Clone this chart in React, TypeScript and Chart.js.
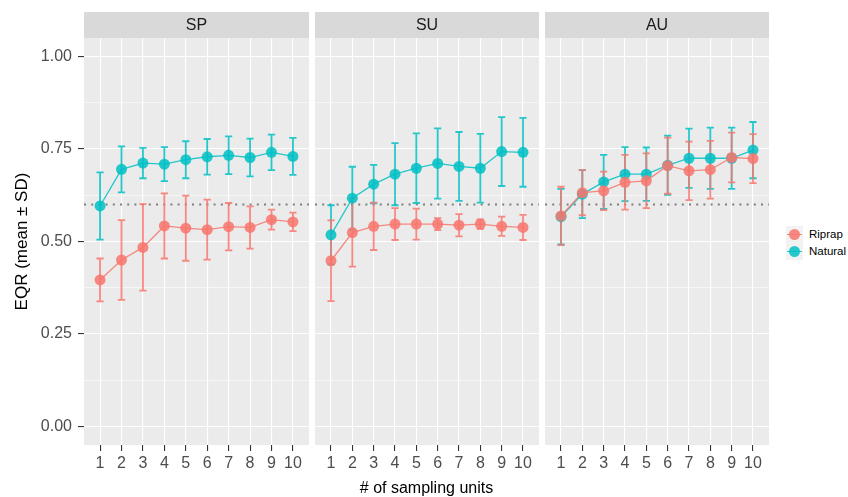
import React, { useEffect, useRef } from "react";
import { Chart, registerables } from "chart.js";

Chart.register(...registerables);

// Facets, x positions and axis ticks
const seasons = ["SP", "SU", "AU"];
const samplingUnits = [1, 2, 3, 4, 5, 6, 7, 8, 9, 10];
const yTicks = [0, 0.25, 0.5, 0.75, 1.0];
const referenceEQR = 0.6;
const groups = ["Riprap", "Natural"];

// EQR mean and SD by number of sampling units — spring
const riprapMeanSP = [0.396, 0.45, 0.484, 0.542, 0.536, 0.532, 0.54, 0.538, 0.559, 0.553];
const riprapSdSP = [0.058, 0.108, 0.117, 0.088, 0.088, 0.081, 0.064, 0.057, 0.027, 0.025];
const naturalMeanSP = [0.596, 0.695, 0.712, 0.709, 0.721, 0.729, 0.733, 0.727, 0.741, 0.73];
const naturalSdSP = [0.091, 0.062, 0.041, 0.046, 0.05, 0.048, 0.051, 0.051, 0.048, 0.05];

// summer
const riprapMeanSU = [0.448, 0.524, 0.541, 0.547, 0.547, 0.547, 0.544, 0.547, 0.541, 0.538];
const riprapSdSU = [0.109, 0.092, 0.064, 0.043, 0.042, 0.016, 0.03, 0.013, 0.026, 0.034];
const naturalMeanSU = [0.518, 0.617, 0.655, 0.682, 0.698, 0.711, 0.703, 0.698, 0.743, 0.741];
const naturalSdSU = [0.08, 0.085, 0.052, 0.084, 0.094, 0.095, 0.093, 0.093, 0.093, 0.093];

// autumn
const riprapMeanAU = [0.569, 0.632, 0.637, 0.66, 0.664, 0.705, 0.691, 0.694, 0.727, 0.724];
const riprapSdAU = [0.079, 0.061, 0.052, 0.074, 0.074, 0.076, 0.079, 0.078, 0.067, 0.066];
const naturalMeanAU = [0.567, 0.628, 0.661, 0.682, 0.682, 0.706, 0.725, 0.725, 0.725, 0.747];
const naturalSdAU = [0.075, 0.065, 0.073, 0.073, 0.072, 0.08, 0.08, 0.083, 0.083, 0.076];

const riprapMeans = [riprapMeanSP, riprapMeanSU, riprapMeanAU];
const riprapSds = [riprapSdSP, riprapSdSU, riprapSdAU];
const naturalMeans = [naturalMeanSP, naturalMeanSU, naturalMeanAU];
const naturalSds = [naturalSdSP, naturalSdSU, naturalSdAU];

const GROUP_COLORS = ["rgba(248,118,109,0.85)", "rgba(0,191,196,0.85)"];

// Layout
const W = 848;
const H = 497;
const STRIP_TOP = 12;
const PANEL_TOP = 38;
const PANEL_BOTTOM = 445;
const PANELS = [
  { left: 84, right: 309 },
  { left: 315, right: 539 },
  { left: 545, right: 769 },
];
const X_MIN = 0.25;
const X_MAX = 10.75;
const Y_MIN = -0.05;
const Y_MAX = 1.05;
const FONT = "'Liberation Sans', Arial, Helvetica, sans-serif";

// major + minor horizontal grid values
const yMinor = yTicks.slice(1).map((v, i) => (v + yTicks[i]) / 2);
const yGrid = [...yTicks, ...yMinor].sort((a, b) => a - b);
const isMajor = (v: number) => yTicks.some((t) => Math.abs(t - v) < 1e-9);

function facetPlugin(season: string, first: boolean, sds: number[][]) {
  return {
    id: "facet",
    beforeDraw(chart: any) {
      const { ctx, chartArea: a } = chart;
      ctx.save();
      ctx.fillStyle = "#EBEBEB";
      ctx.fillRect(a.left, a.top, a.right - a.left, a.bottom - a.top);
      ctx.fillStyle = "#D9D9D9";
      ctx.fillRect(a.left, STRIP_TOP, a.right - a.left, a.top - STRIP_TOP);
      ctx.fillStyle = "#1A1A1A";
      ctx.font = `16px ${FONT}`;
      ctx.textAlign = "center";
      ctx.textBaseline = "middle";
      ctx.fillText(season, (a.left + a.right) / 2, (STRIP_TOP + a.top) / 2 + 1);
      ctx.restore();
    },
    beforeDatasetsDraw(chart: any) {
      const { ctx, chartArea: a, scales } = chart;
      const xs = scales.x;
      const ys = scales.y;
      ctx.save();
      // reference EQR
      ctx.strokeStyle = "#7F7F7F";
      ctx.lineWidth = 2;
      ctx.setLineDash([2, 5.2]);
      const yr = ys.getPixelForValue(referenceEQR);
      ctx.beginPath();
      ctx.moveTo(a.left, yr);
      ctx.lineTo(a.right, yr);
      ctx.stroke();
      ctx.setLineDash([]);
      // mean ± SD error bars
      for (let d = chart.data.datasets.length - 1; d >= 0; d--) {
        const ds = chart.data.datasets[d];
        const sd = sds[d];
        ctx.strokeStyle = ds.borderColor;
        ctx.lineWidth = 1.8;
        ds.data.forEach((p: any, i: number) => {
          const px = xs.getPixelForValue(p.x);
          const top = ys.getPixelForValue(p.y + sd[i]);
          const bot = ys.getPixelForValue(p.y - sd[i]);
          ctx.beginPath();
          ctx.moveTo(px, top);
          ctx.lineTo(px, bot);
          ctx.moveTo(px - 3.6, top);
          ctx.lineTo(px + 3.6, top);
          ctx.moveTo(px - 3.6, bot);
          ctx.lineTo(px + 3.6, bot);
          ctx.stroke();
        });
      }
      ctx.restore();
    },
    afterDraw(chart: any) {
      if (!first) return;
      const { ctx, chartArea: a } = chart;
      ctx.save();
      ctx.fillStyle = "#000000";
      ctx.font = `17px ${FONT}`;
      ctx.textAlign = "center";
      ctx.textBaseline = "middle";
      ctx.translate(22, (a.top + a.bottom) / 2);
      ctx.rotate(-Math.PI / 2);
      ctx.fillText("EQR (mean \u00B1 SD)", 0, 0);
      ctx.restore();
    },
  };
}

function makeChart(canvas: HTMLCanvasElement, f: number) {
  const first = f === 0;
  const means = [riprapMeans[f], naturalMeans[f]];
  const sds = [riprapSds[f], naturalSds[f]];
  return new Chart(canvas, {
    type: "line",
    data: {
      datasets: groups.map((g, d) => ({
        label: g,
        data: samplingUnits.map((u, i) => ({ x: u, y: means[d][i] })),
        borderColor: GROUP_COLORS[d],
        backgroundColor: GROUP_COLORS[d],
        pointBackgroundColor: GROUP_COLORS[d],
        pointBorderWidth: 0,
        pointRadius: 5.5,
        pointHoverRadius: 5.5,
        borderWidth: 1.3,
        tension: 0,
        fill: false,
      })),
    },
    options: {
      animation: false,
      responsive: false,
      devicePixelRatio: 1,
      events: [],
      layout: { autoPadding: false, padding: { top: PANEL_TOP, left: 0, right: 0, bottom: 0 } },
      plugins: { legend: { display: false }, tooltip: { enabled: false } },
      scales: {
        x: {
          type: "linear",
          min: X_MIN,
          max: X_MAX,
          afterBuildTicks: (s: any) => {
            s.ticks = samplingUnits.map((v) => ({ value: v }));
          },
          afterFit: (s: any) => {
            s.height = H - PANEL_BOTTOM;
            s.paddingLeft = 0;
            s.paddingRight = 0;
          },
          grid: {
            color: "#FFFFFF",
            lineWidth: 1.1,
            tickColor: "#333333",
            tickLength: 6,
            drawTicks: true,
          },
          border: { display: false },
          ticks: {
            color: "#4D4D4D",
            font: { family: FONT, size: 16 },
            padding: 3,
            autoSkip: false,
            maxRotation: 0,
            minRotation: 0,
            callback: (v: any) => String(v),
          },
        },
        y: {
          type: "linear",
          min: Y_MIN,
          max: Y_MAX,
          afterBuildTicks: (s: any) => {
            s.ticks = yGrid.map((v) => ({ value: v }));
          },
          afterFit: (s: any) => {
            s.width = first ? PANELS[0].left : 0;
            s.paddingTop = 0;
            s.paddingBottom = 0;
          },
          grid: {
            color: "#FFFFFF",
            lineWidth: (c: any) => (isMajor(c.tick.value) ? 1.1 : 0.55),
            tickColor: (c: any) => (isMajor(c.tick.value) ? "#333333" : "rgba(0,0,0,0)"),
            tickLength: 6,
            drawTicks: first,
          },
          border: { display: false },
          ticks: {
            display: first,
            color: "#4D4D4D",
            font: { family: FONT, size: 16 },
            padding: 6,
            autoSkip: false,
            callback: (v: any) => (isMajor(Number(v)) ? Number(v).toFixed(2) : ""),
          },
        },
      },
    },
    plugins: [facetPlugin(seasons[f], first, sds)],
  } as any);
}

export default function App() {
  const refs = [useRef<HTMLCanvasElement>(null), useRef<HTMLCanvasElement>(null), useRef<HTMLCanvasElement>(null)];

  useEffect(() => {
    const charts = refs.map((r, f) => makeChart(r.current as HTMLCanvasElement, f));
    return () => charts.forEach((c) => c.destroy());
  }, []);

  return (
    <div style={{ position: "absolute", left: 0, top: 0, width: W, height: H, background: "#FFFFFF", overflow: "hidden" }}>
      {PANELS.map((p, f) => {
        const left = f === 0 ? 0 : p.left;
        const width = p.right - left;
        return (
          <canvas
            key={seasons[f]}
            ref={refs[f]}
            width={width}
            height={H}
            style={{ position: "absolute", left, top: 0, width, height: H }}
          />
        );
      })}
      <div
        style={{
          position: "absolute",
          left: PANELS[0].left,
          width: PANELS[2].right - PANELS[0].left,
          top: 479,
          lineHeight: "18px",
          textAlign: "center",
          font: `16px ${FONT}`,
          color: "#000000",
        }}
      >
        # of sampling units
      </div>
      <div style={{ position: "absolute", left: 786, top: 225.5 }}>
        {groups.map((g, d) => (
          <div key={g} style={{ display: "flex", alignItems: "center", height: 17.3 }}>
            <div style={{ width: 17.3, height: 17.3, background: "#F2F2F2", position: "relative" }}>
              <div
                style={{ position: "absolute", left: 1, right: 1, top: 8, height: 1.2, background: GROUP_COLORS[d] }}
              />
              <div
                style={{
                  position: "absolute",
                  left: 3.15,
                  top: 3.15,
                  width: 11,
                  height: 11,
                  borderRadius: "50%",
                  background: GROUP_COLORS[d],
                }}
              />
            </div>
            <span style={{ marginLeft: 5.7, font: `11.5px ${FONT}`, color: "#000000" }}>{g}</span>
          </div>
        ))}
      </div>
    </div>
  );
}
